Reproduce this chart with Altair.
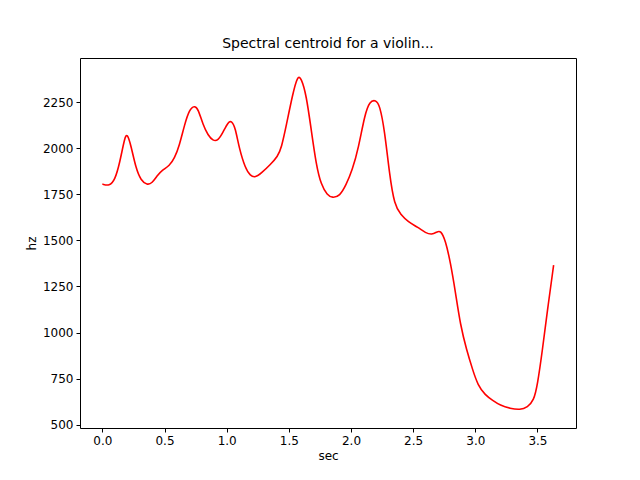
import altair as alt
import pandas as pd

sec = [0.0, 0.056, 0.1, 0.14, 0.18, 0.2, 0.23, 0.27, 0.31, 0.36, 0.4, 0.44, 0.48, 0.54,
       0.58, 0.62, 0.66, 0.7, 0.74, 0.77, 0.81, 0.85, 0.89, 0.93, 0.97, 1.01, 1.04, 1.07,
       1.1, 1.15, 1.19, 1.23, 1.28, 1.35, 1.41, 1.44, 1.48, 1.53, 1.57, 1.6, 1.64, 1.68,
       1.72, 1.76, 1.81, 1.85, 1.91, 1.96, 2.01, 2.06, 2.11, 2.15, 2.2, 2.23, 2.27, 2.31,
       2.35, 2.4, 2.46, 2.54, 2.6, 2.65, 2.69, 2.72, 2.76, 2.8, 2.84, 2.88, 2.93, 2.98,
       3.02, 3.08, 3.14, 3.2, 3.28, 3.36, 3.42, 3.47, 3.5, 3.54, 3.58, 3.63]
hz = [1805, 1795, 1825, 1920, 2060, 2080, 2015, 1890, 1825, 1800, 1810, 1850, 1880, 1905,
      1945, 2015, 2125, 2210, 2230, 2215, 2125, 2070, 2040, 2040, 2085, 2140, 2150, 2110,
      2000, 1890, 1850, 1840, 1865, 1910, 1955, 2000, 2125, 2290, 2395, 2380, 2290, 2100,
      1910, 1800, 1745, 1730, 1740, 1800, 1880, 2000, 2180, 2255, 2262, 2235, 2100, 1855,
      1690, 1640, 1600, 1570, 1540, 1530, 1545, 1555, 1500, 1380, 1220, 1040, 905, 795,
      715, 660, 632, 605, 588, 580, 595, 630, 715, 905, 1120, 1365]

df = pd.DataFrame({"sec": sec, "hz": hz})

chart = (
    alt.Chart(df)
    .mark_line(color="red", strokeWidth=1.6, interpolate="basis")
    .encode(
        x=alt.X("sec:Q", title="sec",
                scale=alt.Scale(domain=[-0.18, 3.81], nice=False, zero=False),
                axis=alt.Axis(values=[0, 0.5, 1, 1.5, 2, 2.5, 3, 3.5], format=".1f")),
        y=alt.Y("hz:Q", title="hz",
                scale=alt.Scale(domain=[482, 2489], nice=False, zero=False),
                axis=alt.Axis(values=[500, 750, 1000, 1250, 1500, 1750, 2000, 2250],
                              format="d")),
    )
    .properties(width=496, height=370, title="Spectral centroid for a violin...",
                autosize=alt.AutoSizeParams(type="none"),
                padding={"left": 72, "top": 50, "right": 56, "bottom": 44})
    .configure_view(stroke="black", strokeWidth=1)
    .configure_axis(grid=False, domain=False, tickColor="black", tickSize=4,
                    labelColor="black", labelFont="DejaVu Sans", labelFontSize=12,
                    titleFont="DejaVu Sans", titleFontSize=12, titleFontWeight="normal",
                    titleColor="black", labelPadding=3, titlePadding=4)
    .configure_title(font="DejaVu Sans", fontSize=14, fontWeight="normal", offset=7)
)

chart.save("out.html", embed_options={"renderer": "svg", "actions": False})
